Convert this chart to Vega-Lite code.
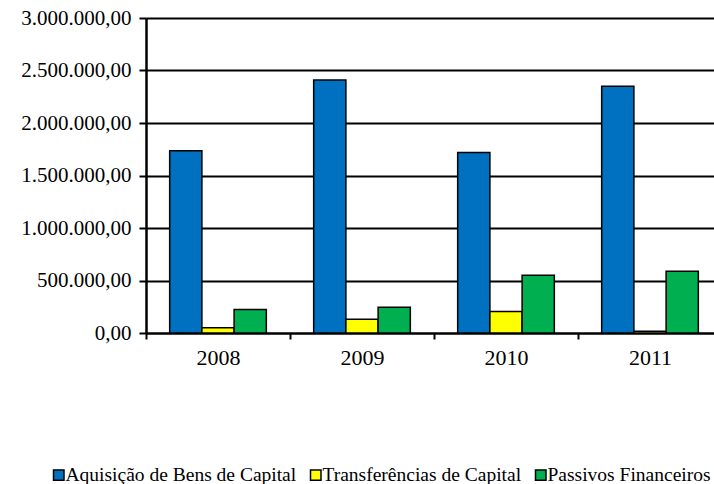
{
  "$schema": "https://vega.github.io/schema/vega-lite/v6.json",
  "width": 568,
  "height": 315,
  "autosize": {"type": "none"},
  "padding": {"left": 146, "top": 18, "right": 0, "bottom": 151},
  "background": "white",
  "config": {"view": {"stroke": null}, "font": "Times New Roman, Liberation Serif, serif"},
  "data": {
    "values": [
      {"ano": "2008", "serie": "Aquisição de Bens de Capital", "valor": 1736000},
      {"ano": "2008", "serie": "Transferências de Capital", "valor": 51000},
      {"ano": "2008", "serie": "Passivos Financeiros", "valor": 223000},
      {"ano": "2009", "serie": "Aquisição de Bens de Capital", "valor": 2410000},
      {"ano": "2009", "serie": "Transferências de Capital", "valor": 131000},
      {"ano": "2009", "serie": "Passivos Financeiros", "valor": 246000},
      {"ano": "2010", "serie": "Aquisição de Bens de Capital", "valor": 1720000},
      {"ano": "2010", "serie": "Transferências de Capital", "valor": 204000},
      {"ano": "2010", "serie": "Passivos Financeiros", "valor": 549000},
      {"ano": "2011", "serie": "Aquisição de Bens de Capital", "valor": 2349000},
      {"ano": "2011", "serie": "Transferências de Capital", "valor": 16000},
      {"ano": "2011", "serie": "Passivos Financeiros", "valor": 587000}
    ]
  },
  "mark": {"type": "bar", "stroke": "black", "strokeWidth": 1.5},
  "encoding": {
    "x": {
      "field": "ano",
      "type": "nominal",
      "scale": {"range": [0, 576], "paddingInner": 0, "paddingOuter": 0},
      "axis": {
        "title": null,
        "labelAngle": 0,
        "domainColor": "black",
        "domainWidth": 2,
        "tickColor": "black",
        "tickWidth": 2,
        "tickSize": 6,
        "tickBand": "extent",
        "labelFont": "Times New Roman, Liberation Serif, serif",
        "labelFontSize": 22,
        "labelColor": "black",
        "labelPadding": 8,
        "grid": false
      }
    },
    "xOffset": {
      "field": "serie",
      "type": "nominal",
      "sort": ["Aquisição de Bens de Capital", "Transferências de Capital", "Passivos Financeiros"],
      "scale": {"paddingInner": 0, "paddingOuter": 0.735}
    },
    "y": {
      "field": "valor",
      "type": "quantitative",
      "scale": {"domain": [0, 3000000], "nice": false},
      "axis": {
        "title": null,
        "values": [0, 500000, 1000000, 1500000, 2000000, 2500000, 3000000],
        "labelExpr": "replace(replace(replace(format(datum.value, ',.2f'), regexp(',', 'g'), '#'), '.', ','), regexp('#', 'g'), '.')",
        "domainColor": "black",
        "domainWidth": 2.5,
        "tickColor": "black",
        "tickWidth": 2,
        "tickSize": 7,
        "grid": true,
        "gridColor": "black",
        "gridWidth": 2,
        "labelFont": "Times New Roman, Liberation Serif, serif",
        "labelFontSize": 21,
        "labelColor": "black",
        "labelPadding": 8
      }
    },
    "color": {
      "field": "serie",
      "type": "nominal",
      "sort": ["Aquisição de Bens de Capital", "Transferências de Capital", "Passivos Financeiros"],
      "scale": {
        "domain": ["Aquisição de Bens de Capital", "Transferências de Capital", "Passivos Financeiros"],
        "range": ["#0070C0", "#FFFF00", "#00B050"]
      },
      "legend": {
        "orient": "none",
        "legendX": -97,
        "legendY": 447,
        "direction": "horizontal",
        "title": null,
        "padding": 0,
        "symbolType": "square",
        "symbolSize": 110,
        "symbolStrokeColor": "black",
        "symbolStrokeWidth": 1.5,
        "symbolOpacity": 1,
        "labelFont": "Times New Roman, Liberation Serif, serif",
        "labelFontSize": 19.5,
        "labelColor": "black",
        "labelOffset": -3,
        "columnPadding": 9,
        "labelLimit": 0
      }
    }
  }
}
